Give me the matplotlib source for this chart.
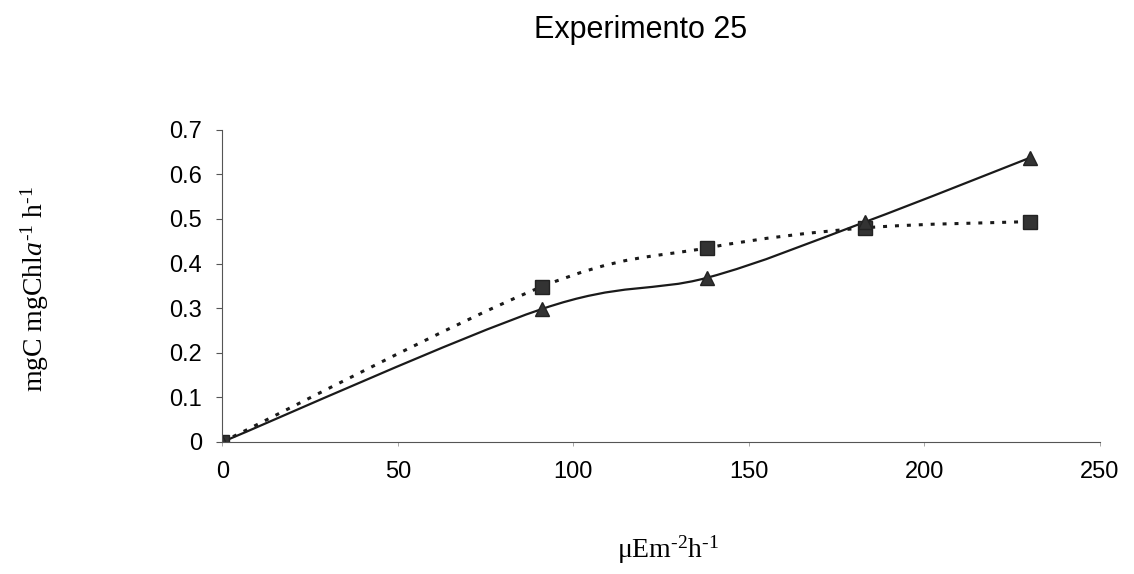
import numpy as np
import matplotlib.pyplot as plt
from matplotlib.path import Path
from matplotlib.patches import PathPatch

# Data
irradiance = [0, 91, 138, 183, 230]
triangles = [0.0, 0.298, 0.368, 0.493, 0.637]
squares = [0.0, 0.348, 0.435, 0.48, 0.494]

x_ticks = [0, 50, 100, 150, 200, 250]
y_ticks = [0, 0.1, 0.2, 0.3, 0.4, 0.5, 0.6, 0.7]

plt.rcParams["font.family"] = ["Liberation Sans", "DejaVu Sans"]
plt.rcParams["mathtext.fontset"] = "custom"
plt.rcParams["mathtext.rm"] = "Liberation Serif"
plt.rcParams["mathtext.it"] = "Liberation Serif:italic"


def smooth_path(x, y):
    # Excel-like smoothed line: cubic Bezier through every data point
    pts = np.column_stack([x, y]).astype(float)
    n = len(pts)
    verts = [pts[0]]
    codes = [Path.MOVETO]
    for i in range(n - 1):
        p0 = pts[i - 1] if i > 0 else pts[i]
        p1 = pts[i]
        p2 = pts[i + 1]
        p3 = pts[i + 2] if i + 2 < n else pts[i + 1]
        c1 = p1 + (p2 - p0) / 6
        c2 = p2 - (p3 - p1) / 6
        verts += [c1, c2, p2]
        codes += [Path.CURVE4] * 3
    return Path(verts, codes)


fig = plt.figure(figsize=(11.34, 5.74), dpi=100)
ax = fig.add_axes([0.196, 0.230, 0.774, 0.544])

ax.add_patch(PathPatch(smooth_path(irradiance, squares), fill=False,
                       edgecolor="#1a1a1a", lw=2.2, linestyle=(0, (1.3, 2.6))))
ax.add_patch(PathPatch(smooth_path(irradiance, triangles), fill=False,
                       edgecolor="#1a1a1a", lw=1.6))

ax.plot(irradiance, squares, linestyle="none", marker="s", markersize=9.5,
        color="#333333", markeredgecolor="#222222")
ax.plot(irradiance, triangles, linestyle="none", marker="^", markersize=10,
        color="#333333", markeredgecolor="#222222")

ax.set_xlim(0, 250)
ax.set_ylim(0, 0.7)
ax.set_xticks(x_ticks)
ax.set_yticks(y_ticks)
ax.set_xticklabels([str(v) for v in x_ticks])
ax.set_yticklabels(["0"] + ["%.1f" % v for v in y_ticks[1:]])

ax.spines["top"].set_visible(False)
ax.spines["right"].set_visible(False)
ax.spines["left"].set_color("#555555")
ax.spines["bottom"].set_color("#555555")
ax.spines["left"].set_linewidth(0.8)
ax.spines["bottom"].set_linewidth(0.8)

ax.tick_params(axis="y", length=4.5, width=0.8, color="#555555", labelsize=17, pad=10)
ax.tick_params(axis="x", length=3, width=0.6, color="#999999", labelsize=17, pad=11)

fig.text(0.565, 0.947, "Experimento 25", ha="center", va="center", fontsize=22)
fig.text(0.589, 0.042, r"$\mathrm{\mu Em}^{\text{-2}}\mathrm{h}^{\text{-1}}$",
         ha="center", va="center", fontsize=20)
fig.text(0.031, 0.497,
         r"$\mathrm{mgC\ mgChl}\mathit{a}^{\text{-1}}\ \mathrm{h}^{\text{-1}}$",
         ha="center", va="center", rotation=90, fontsize=20)

fig.savefig("out.png", dpi=100)
